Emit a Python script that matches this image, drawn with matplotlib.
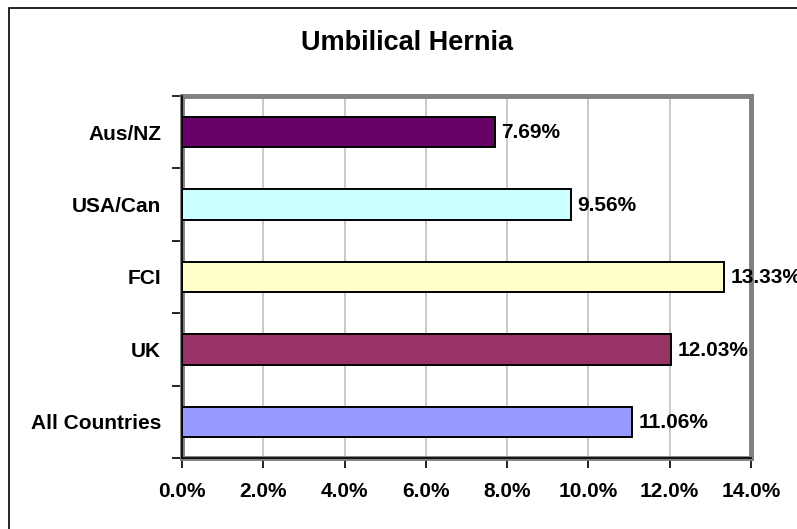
import matplotlib
matplotlib.use("Agg")
import matplotlib.pyplot as plt
from matplotlib.patches import Rectangle
import numpy as np

plt.rcParams['font.family'] = ['Liberation Sans', 'DejaVu Sans']

categories = ["All Countries", "UK", "FCI", "USA/Can", "Aus/NZ"]
values = [11.06, 12.03, 13.33, 9.56, 7.69]
colors = ["#9999FF", "#993366", "#FFFFCC", "#CCFFFF", "#660066"]
xticks = [0, 2, 4, 6, 8, 10, 12, 14]
xticklabels = ["0.0%", "2.0%", "4.0%", "6.0%", "8.0%", "10.0%", "12.0%", "14.0%"]
title = "Umbilical Hernia"

W, H = 797, 529
fig = plt.figure(figsize=(W / 100, H / 100), dpi=100)
fig.patch.set_facecolor("white")

# figure border (extends past right/bottom edges)
fig.patches.append(Rectangle((8.5 / W, -0.2), 2, (H - 7.5) / H + 0.2,
                             transform=fig.transFigure, fill=False,
                             edgecolor="black", linewidth=1.2))

ax = fig.add_axes([182 / W, 71 / H, 569 / W, 362 / H])
y = np.arange(len(categories))
ax.barh(y, values, height=0.42, color=colors, edgecolor="black", linewidth=1.4, zorder=3)

ax.set_xlim(0, 14)
ax.set_ylim(-0.5, len(categories) - 0.5)
ax.set_xticks(xticks)
ax.set_xticklabels(xticklabels, fontsize=15, fontweight="bold")
ax.set_yticks(y)
ax.set_yticklabels(categories, fontsize=15, fontweight="bold")
ax.set_yticks(np.arange(-0.5, len(categories), 1.0), minor=True)
ax.tick_params(axis="y", which="major", length=0, pad=15)
ax.tick_params(axis="y", which="minor", length=7, width=1.2, color="black", direction="out")
ax.tick_params(axis="x", which="major", length=7, width=1.2, color="black", direction="out", pad=10)

ax.grid(axis="x", color="#c0c0c0", linewidth=1.2, zorder=0)
ax.set_axisbelow(True)

for side in ["top", "right", "left", "bottom"]:
    ax.spines[side].set_color("#808080")
    ax.spines[side].set_linewidth(3.5)
ax.axvline(0, color="black", linewidth=1.2, zorder=4, clip_on=False)
ax.axhline(-0.5, color="black", linewidth=1.2, zorder=4, clip_on=False)

for yi, v in zip(y, values):
    ax.text(v + 0.17, yi - 0.01, f"{v:.2f}%", va="center", ha="left", fontsize=15,
            fontweight="bold", clip_on=False, zorder=5)

fig.text(407 / W, 1 - 43 / H, title, ha="center", va="center", fontsize=19.5, fontweight="bold")

fig.savefig("out.png", dpi=100)
